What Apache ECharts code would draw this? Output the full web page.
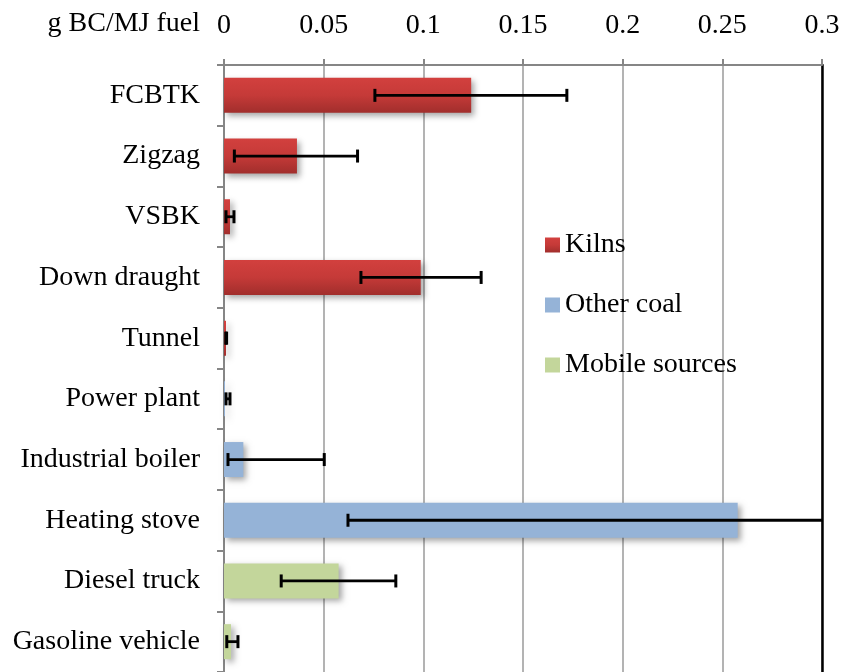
<!DOCTYPE html>
<html><head><meta charset="utf-8">
<script src="https://cdn.jsdelivr.net/npm/echarts@6/dist/echarts.min.js"></script>
<style>html,body{margin:0;padding:0;background:#fff}#c{width:843px;height:672px}</style>
</head><body><div id="c"></div>
<script>
var categories = ['FCBTK','Zigzag','VSBK','Down draught','Tunnel','Power plant','Industrial boiler','Heating stove','Diesel truck','Gasoline vehicle'];
var kilns      = [0.124, 0.0366, 0.003, 0.0987, 0.001, null, null, null, null, null];
var otherCoal  = [null, null, null, null, null, 0.0005, 0.0097, 0.2577, null, null];
var mobile     = [null, null, null, null, null, null, null, null, 0.0575, 0.0035];
var errLow     = [0.0757, 0.0052, 0.001, 0.0687, 0.0009, 0.001, 0.002, 0.0622, 0.0287, 0.0014];
var errHigh    = [0.172, 0.067, 0.005, 0.129, 0.0013, 0.003, 0.0503, 0.453, 0.0862, 0.007];
var xTicks     = {min: 0, max: 0.3, interval: 0.05};
var axisTitle  = 'g BC/MJ fuel';

var FONT = "'Liberation Serif','Times New Roman',serif";
var FS = 28;
var chart = echarts.init(document.getElementById('c'));
var shadow = {shadowBlur: 6, shadowOffsetX: 3, shadowOffsetY: 3, shadowColor: 'rgba(0,0,0,0.35)'};
function barSeries(name, data, color) {
  return {
    name: name, type: 'bar', data: data, barWidth: 35, barGap: '-100%',
    itemStyle: Object.assign({color: color}, shadow),
    z: 2
  };
}
var errData = categories.map(function (c, i) { return [i, errLow[i], errHigh[i]]; });

chart.setOption({
  animation: false,
  backgroundColor: '#fff',
  textStyle: {fontFamily: FONT},
  graphic: [{
    type: 'text', right: 843 - 200, top: 10,
    style: {text: axisTitle, font: FS + 'px ' + FONT, fill: '#000', textAlign: 'right'}
  }],
  legend: {
    orient: 'vertical', left: 545, top: 231, itemWidth: 15, itemHeight: 15, itemGap: 32,
    padding: 0, icon: 'rect',
    textStyle: {fontSize: FS, fontFamily: FONT, color: '#000', lineHeight: 28, padding: [0,0,0,0]},
    data: ['Kilns', 'Other coal', 'Mobile sources']
  },
  grid: {left: 224, top: 65, width: 598, height: 611, containLabel: false},
  xAxis: {
    type: 'value', position: 'top', min: xTicks.min, max: xTicks.max, interval: xTicks.interval,
    axisLine: {show: true, lineStyle: {color: '#868686', width: 2}},
    axisTick: {show: true, length: 6, lineStyle: {color: '#868686', width: 2}},
    axisLabel: {fontSize: FS, fontFamily: FONT, color: '#000', margin: 25,
      formatter: function (v) { return String(+v.toFixed(2)); }},
    splitLine: {show: true, lineStyle: {color: '#9a9a9a', width: 1.5}}
  },
  yAxis: [{
    type: 'category', data: categories, inverse: true,
    axisLine: {show: true, lineStyle: {color: '#868686', width: 2}},
    axisTick: {show: true, length: 7, lineStyle: {color: '#868686', width: 2}},
    axisLabel: {fontSize: FS, fontFamily: FONT, color: '#000', margin: 24, padding: [8, 0, 0, 0]},
    splitLine: {show: false}
  }, {
    type: 'category', data: categories, inverse: true, position: 'right',
    axisLine: {show: true, lineStyle: {color: '#000', width: 2.5}},
    axisTick: {show: false}, axisLabel: {show: false}, splitLine: {show: false}
  }],
  series: [
    barSeries('Kilns', kilns, new echarts.graphic.LinearGradient(0, 0, 0, 1, [
      {offset: 0, color: '#d2403e'}, {offset: 0.5, color: '#c53a38'}, {offset: 1, color: '#a12e2c'}])),
    barSeries('Other coal', otherCoal, '#95b3d7'),
    barSeries('Mobile sources', mobile, '#c3d69b'),
    {
      type: 'custom', name: 'err', data: errData, z: 10,
      encode: {x: [1, 2], y: 0},
      renderItem: function (params, api) {
        var idx = api.value(0);
        var lo = api.coord([api.value(1), idx]);
        var hi = api.coord([api.value(2), idx]);
        var cs = params.coordSys;
        var right = cs.x + cs.width;
        var capH = 13;
        var hx = Math.min(hi[0], right);
        var style = {stroke: '#000', lineWidth: 3};
        var children = [
          {type: 'line', shape: {x1: lo[0], y1: lo[1], x2: hx, y2: hi[1]}, style: {stroke: '#000', lineWidth: 2.8}},
          {type: 'line', shape: {x1: lo[0], y1: lo[1] - capH / 2, x2: lo[0], y2: lo[1] + capH / 2}, style: style}
        ];
        if (hi[0] <= right) {
          children.push({type: 'line', shape: {x1: hi[0], y1: hi[1] - capH / 2, x2: hi[0], y2: hi[1] + capH / 2}, style: style});
        }
        return {type: 'group', children: children};
      }
    }
  ]
});
</script></body></html>
